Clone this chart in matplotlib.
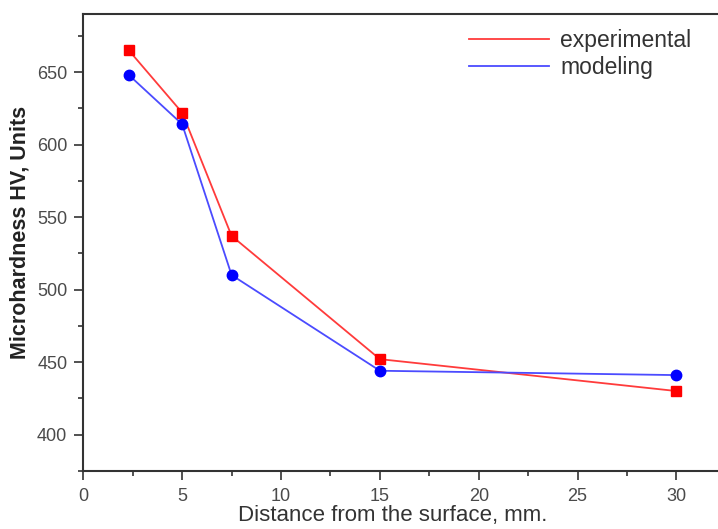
import matplotlib
matplotlib.use("Agg")
import matplotlib.pyplot as plt
from matplotlib.ticker import MultipleLocator

# distance from the surface, mm
distance = [2.3, 5.0, 7.5, 15.0, 30.0]
experimental = [665, 622, 537, 452, 430]
modeling = [648, 614, 510, 444, 441]

plt.rcParams["font.family"] = ["Liberation Sans", "DejaVu Sans"]

W, H = 718, 529
fig = plt.figure(figsize=(W / 100, H / 100), dpi=100)
ax = fig.add_axes([0.116, 0.110, 0.884, 0.8635])

ax.plot(distance, experimental, color="#ff3b3b", linewidth=1.3, label="experimental")
ax.plot(distance, modeling, color="#4b4bff", linewidth=1.3, label="modeling")
ax.plot(distance, experimental, linestyle="none", marker="s", markersize=6.5, color="#ff0000")
ax.plot(distance, modeling, linestyle="none", marker="o", markersize=7.5, color="#0000ff")

ax.set_xlim(0, 32.1)
ax.set_ylim(375, 690)
ax.xaxis.set_major_locator(MultipleLocator(5))
ax.xaxis.set_minor_locator(MultipleLocator(2.5))
ax.yaxis.set_minor_locator(MultipleLocator(25))
ax.set_yticks([400, 450, 500, 550, 600, 650])

for side in ("left", "bottom", "top"):
    ax.spines[side].set_linewidth(1.5)
    ax.spines[side].set_color("#333333")
ax.spines["right"].set_visible(False)

ax.tick_params(which="major", direction="out", length=6.5, width=1.2, colors="#333333",
               labelsize=13, labelcolor="#4a4a4a")
ax.tick_params(axis="y", which="major", pad=5)
ax.tick_params(axis="x", which="major", pad=6)
ax.tick_params(which="minor", direction="out", length=3.5, width=1.2, colors="#333333")

# axis titles placed by pixel position as in the reference
fig.text(393 / W, 1 - 516 / H, "Distance from the surface, mm.", fontsize=16,
         color="#333333", ha="center", va="center")
fig.text(20 / W, 1 - 232 / H, "Microhardness HV, Units", fontsize=15.5, fontweight="bold",
         color="#222222", rotation=90, ha="center", va="center")

ax.legend(loc="upper left", bbox_to_anchor=(0.6077, 0.968), frameon=False, fontsize=16.5,
          borderpad=0, borderaxespad=0, handlelength=3.5, labelspacing=0.2,
          handletextpad=0.48, labelcolor="#333333")

fig.savefig("out.png", dpi=100)
